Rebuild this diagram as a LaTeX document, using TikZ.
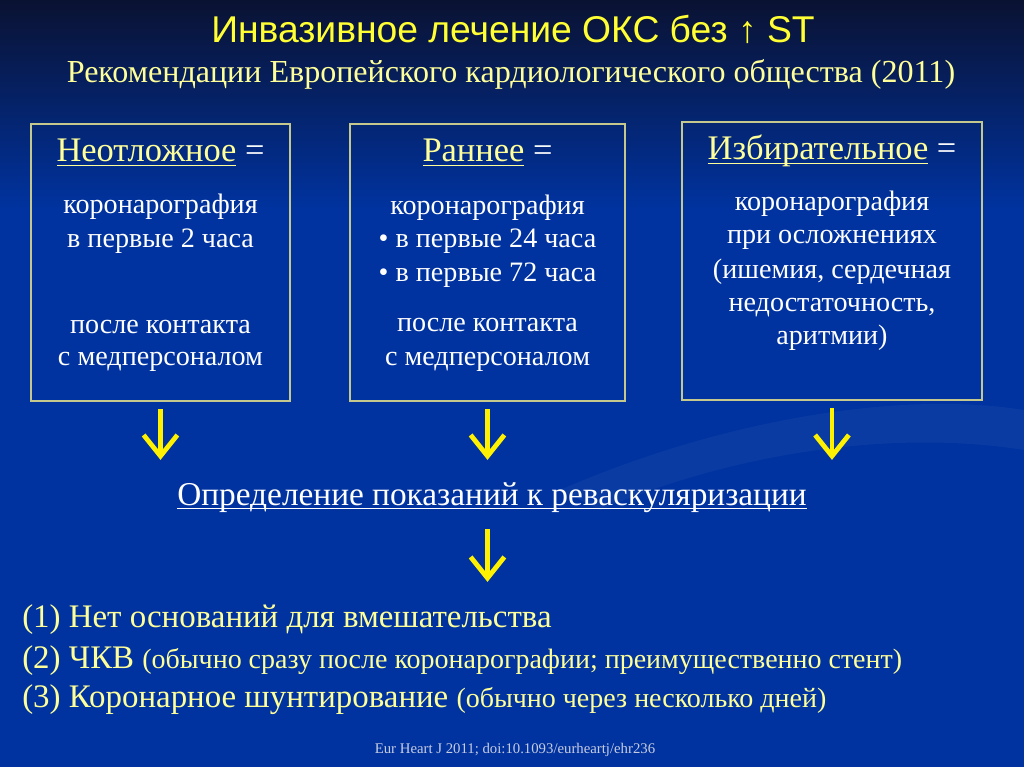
\documentclass[tikz,border=0pt]{standalone}
\usepackage{fontspec}
\setmainfont{Liberation Serif}
\newfontfamily\headfont{Liberation Sans}
\usetikzlibrary{calc,arrows.meta}

\definecolor{bgtop}{HTML}{0A1232}
\definecolor{bgblue}{HTML}{0033A0}
\definecolor{boxline}{HTML}{C4C88C}
\definecolor{hiyellow}{HTML}{FFFF33}
\definecolor{paleyellow}{HTML}{FFFF99}
\definecolor{refgray}{HTML}{C8CCE0}

\newcommand{\fsz}[1]{\fontsize{#1}{#1}\selectfont}
% underline at a fixed depth, through the descenders
\newlength{\ulw}
\newcommand{\uln}[1]{\settowidth{\ulw}{#1}\rlap{\rule[-3pt]{\ulw}{0.8pt}}#1}

\begin{document}
\begin{tikzpicture}[x=0.025cm,y=-0.025cm,
  frame/.style={draw=boxline,line width=1.4pt,inner sep=0pt},
  line/.style={text=white,inner sep=0pt,anchor=base,font=\fsz{20}},
  item/.style={text=paleyellow,inner sep=0pt,anchor=base west,font=\fsz{23.4}},
  down/.style={draw=yellow,line width=3.4pt,-{Straight Barb[length=15pt,width=24pt]}}]
  % background
  \fill[bgblue] (0,0) rectangle (1024,767);
  \shade[top color=bgtop,bottom color=bgblue] (0,0) rectangle (1024,210);
  \fill[white,opacity=0.04] (560,490) .. controls (720,420) and (900,390) .. (1024,410)
    -- (1024,450) .. controls (900,430) and (740,450) .. (600,510) -- cycle;
  \useasboundingbox (0,0) rectangle (1024,767);

  % title
  \node[text=hiyellow,inner sep=0pt,anchor=base,font=\headfont\fsz{26.5}] (title) at (513,43)
    {Инвазивное лечение ОКС без ↑ ST};
  \node[text=paleyellow,inner sep=0pt,anchor=base,font=\fsz{22.8}] (subtitle) at (511,83)
    {Рекомендации Европейского кардиологического общества (2011)};

  % three boxes
  \node[frame,minimum width=6.475cm,minimum height=6.925cm] (b1) at (160.5,262.5) {};
  \node[frame,minimum width=6.875cm,minimum height=6.925cm] (b2) at (487.5,262.5) {};
  \node[frame,minimum width=7.5cm,minimum height=6.95cm] (b3) at (832,261) {};

  \node[line,font=\fsz{24.5}] (h1) at (160.5,162)
    {{\color{paleyellow}\uln{Неотложное}} =};
  \foreach \y/\t [count=\k] in {214/коронарография,247/в первые 2 часа,
      333/после контакта,365/с медперсоналом}
    \node[line] (b1l\k) at (160.5,\y) {\t};

  \node[line,font=\fsz{24.5}] (h2) at (487.5,162)
    {{\color{paleyellow}\uln{Раннее}} =};
  \foreach \y/\t [count=\k] in {215/коронарография,248/\textbullet\ в первые 24 часа,
      281/\textbullet\ в первые 72 часа,331/после контакта,365/с медперсоналом}
    \node[line] (b2l\k) at (487.5,\y) {\t};

  \node[line,font=\fsz{24.5}] (h3) at (832,160)
    {{\color{paleyellow}\uln{Избирательное}} =};
  \foreach \y/\t [count=\k] in {211/коронарография,244/при осложнениях,
      278/{(ишемия, сердечная},311/{недостаточность,},344/аритмии)}
    \node[line] (b3l\k) at (832,\y) {\t};

  % revascularisation
  \node[line,font=\fsz{23.7}] (rev) at (492,505)
    {\uln{Определение показаний к реваскуляризации}};

  % options
  \node[item] (l1) at (22,627) {(1) Нет оснований для вмешательства};
  \node[item] (l2) at (22,668)
    {(2) ЧКВ {\fsz{19.9}(обычно сразу после коронарографии; преимущественно стент)}};
  \node[item] (l3) at (22,707)
    {(3) Коронарное шунтирование {\fsz{19.9}(обычно через несколько дней)}};

  \node[text=refgray,inner sep=0pt,anchor=base,font=\fsz{10.5}] (ref) at (515,753)
    {Eur Heart J 2011; doi:10.1093/eurheartj/ehr236};

  % arrows
  \foreach \b in {b1,b2,b3}
    \draw[down] ($(\b.south)+(0,7)$) -- ($(\b.south |- rev.north)+(0,-22)$);
  \draw[down] ($(b2.south |- rev.south)+(0,17)$) -- ($(b2.south |- l1.north)+(0,-22)$);
\end{tikzpicture}
\end{document}
